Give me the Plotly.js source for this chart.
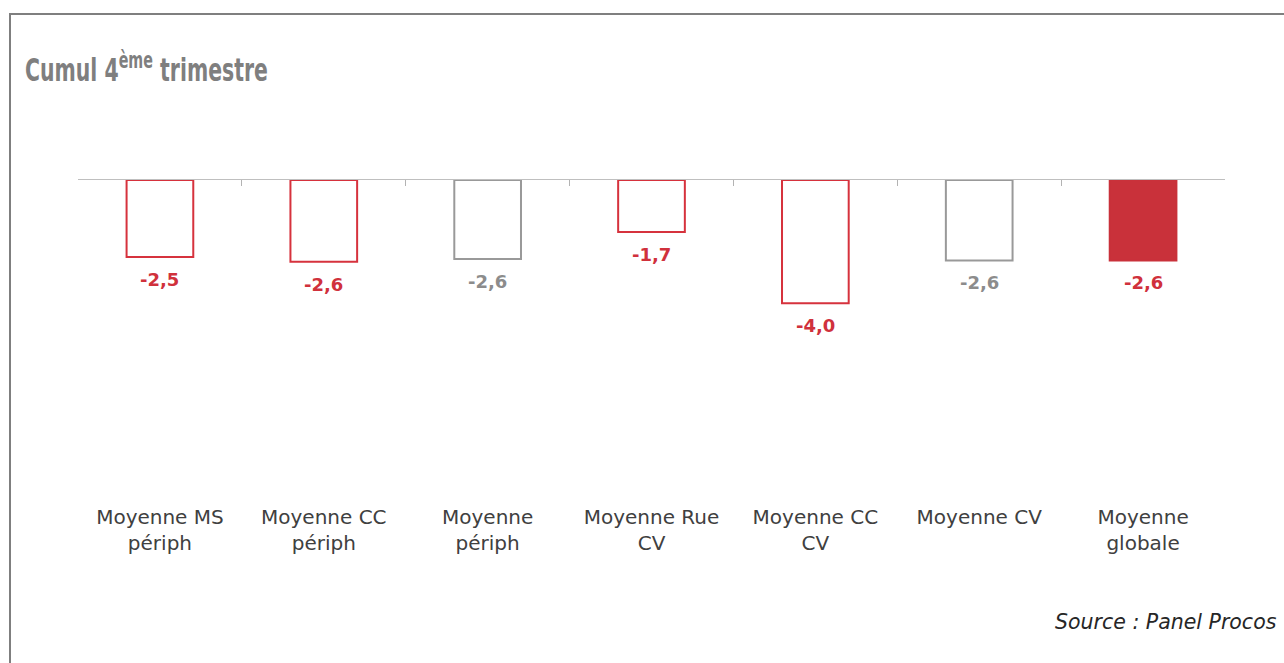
<!DOCTYPE html>
<html>
<head>
<meta charset="utf-8">
<script src="https://cdn.plot.ly/plotly-3.0.1.min.js"></script>
<style>
  html, body { margin: 0; padding: 0; background: #ffffff; overflow: hidden; }
  #wrap { position: relative; width: 1284px; height: 663px; }
  #chart { position: absolute; left: 0; top: 0; width: 1284px; height: 663px; }
  #frame { position: absolute; left: 9px; top: 13px; width: 1300px; height: 700px;
           border-left: 2px solid #7f7f7f; border-top: 2px solid #7f7f7f;
           pointer-events: none; z-index: 5; box-sizing: border-box; }
</style>
</head>
<body>
<div id="wrap">
  <div id="chart"></div>
  <div id="frame"></div>
</div>
<script>
// ---- data ----
const categories = [
  "Moyenne MS<br>périph",
  "Moyenne CC<br>périph",
  "Moyenne<br>périph",
  "Moyenne Rue<br>CV",
  "Moyenne CC<br>CV",
  "Moyenne CV",
  "Moyenne<br>globale"
];
const values = [-2.51, -2.66, -2.57, -1.69, -4.01, -2.62, -2.62];
const labels = ["-2,5", "-2,6", "-2,6", "-1,7", "-4,0", "-2,6", "-2,6"];
const groups = ["red", "red", "grey", "red", "red", "grey", "filled"];

// ---- styles ----
const RED = "#d6323d";
const FILL_RED = "#c9313a";
const GREY = "#999999";
const lineColor = groups.map(g => g === "grey" ? GREY : (g === "filled" ? FILL_RED : RED));
const fillColor = groups.map(g => g === "filled" ? FILL_RED : "#ffffff");
const textColor = groups.map(g => g === "grey" ? "#8c8c8c" : "#d0313c");

const bars = {
  type: "bar",
  x: categories,
  y: values,
  xaxis: "x",
  yaxis: "y",
  marker: { color: fillColor, line: { color: lineColor, width: 2 } },
  hoverinfo: "skip",
  showlegend: false
};
// invisible trace so the top (tick) axis is built
const boundaryPos = categories.map((c, i) => i - 0.5).concat([categories.length - 0.5]);
const topAxisTrace = {
  type: "scatter", mode: "markers",
  x: [boundaryPos[0]], y: [0],
  xaxis: "x2", yaxis: "y",
  marker: { opacity: 0 }, hoverinfo: "skip", showlegend: false
};

const annotations = categories.map((c, i) => ({
  x: c, y: values[i], xref: "x", yref: "y",
  text: labels[i], showarrow: false,
  yanchor: "top", yshift: -10,
  font: { family: "DejaVu Sans", size: 18, color: textColor[i], weight: "bold" }
}));
annotations.push({
  xref: "paper", yref: "paper", x: (1279 - 78) / 1147, y: -0.381,
  xanchor: "right", yanchor: "middle", showarrow: false,
  text: "<i>Source : Panel Procos</i>",
  font: { family: "DejaVu Sans", size: 20.5, color: "#262626" }
});

const layout = {
  width: 1284, height: 663,
  margin: { l: 78, r: 59, t: 180, b: 163, pad: 0 },
  paper_bgcolor: "#ffffff", plot_bgcolor: "rgba(0,0,0,0)",
  separators: ", ",
  bargap: 0.593,
  title: {
    text: "Cumul 4<sup>ème</sup> trimestre",
    x: 25 / 1284, xanchor: "left", xref: "container",
    y: 1 - 70 / 663, yanchor: "middle", yref: "container",
    font: { family: "DejaVu Sans, sans-serif",
            size: 32, color: "#7f7f7f", weight: "bold" }
  },
  xaxis: {
    type: "category", range: [-0.5, categories.length - 0.5],
    showline: false, ticks: "", showgrid: false, zeroline: false,
    ticklabelstandoff: 3,
    tickfont: { family: "DejaVu Sans", size: 20, color: "#404040" },
    fixedrange: true
  },
  xaxis2: {
    overlaying: "x", side: "top", anchor: "y",
    range: [-0.5, categories.length - 0.5],
    tickmode: "array", tickvals: boundaryPos,
    ticks: "inside", ticklen: 6, tickcolor: "#b3b3b3", tickwidth: 1,
    showticklabels: false, showline: true, linecolor: "#bfbfbf", linewidth: 1,
    showgrid: false, zeroline: false, fixedrange: true
  },
  yaxis: {
    range: [-10.42, 0], visible: false, showgrid: false, zeroline: false, fixedrange: true
  },
  annotations: annotations,
  font: { family: "DejaVu Sans" }
};

Plotly.newPlot("chart", [bars, topAxisTrace], layout, { displayModeBar: false, staticPlot: true })
  .then(function (gd) {
    // condense the title horizontally (no condensed bold face is installed)
    const t = gd.querySelector(".gtitle");
    if (t) {
      const bb = t.getBBox();
      const target = 243;
      const s = Math.min(1, target / bb.width);
      const x0 = bb.x;
      t.setAttribute("transform", "translate(" + (x0 * (1 - s)) + ",0) scale(" + s + ",1)");
    }
  });
</script>
</body>
</html>
